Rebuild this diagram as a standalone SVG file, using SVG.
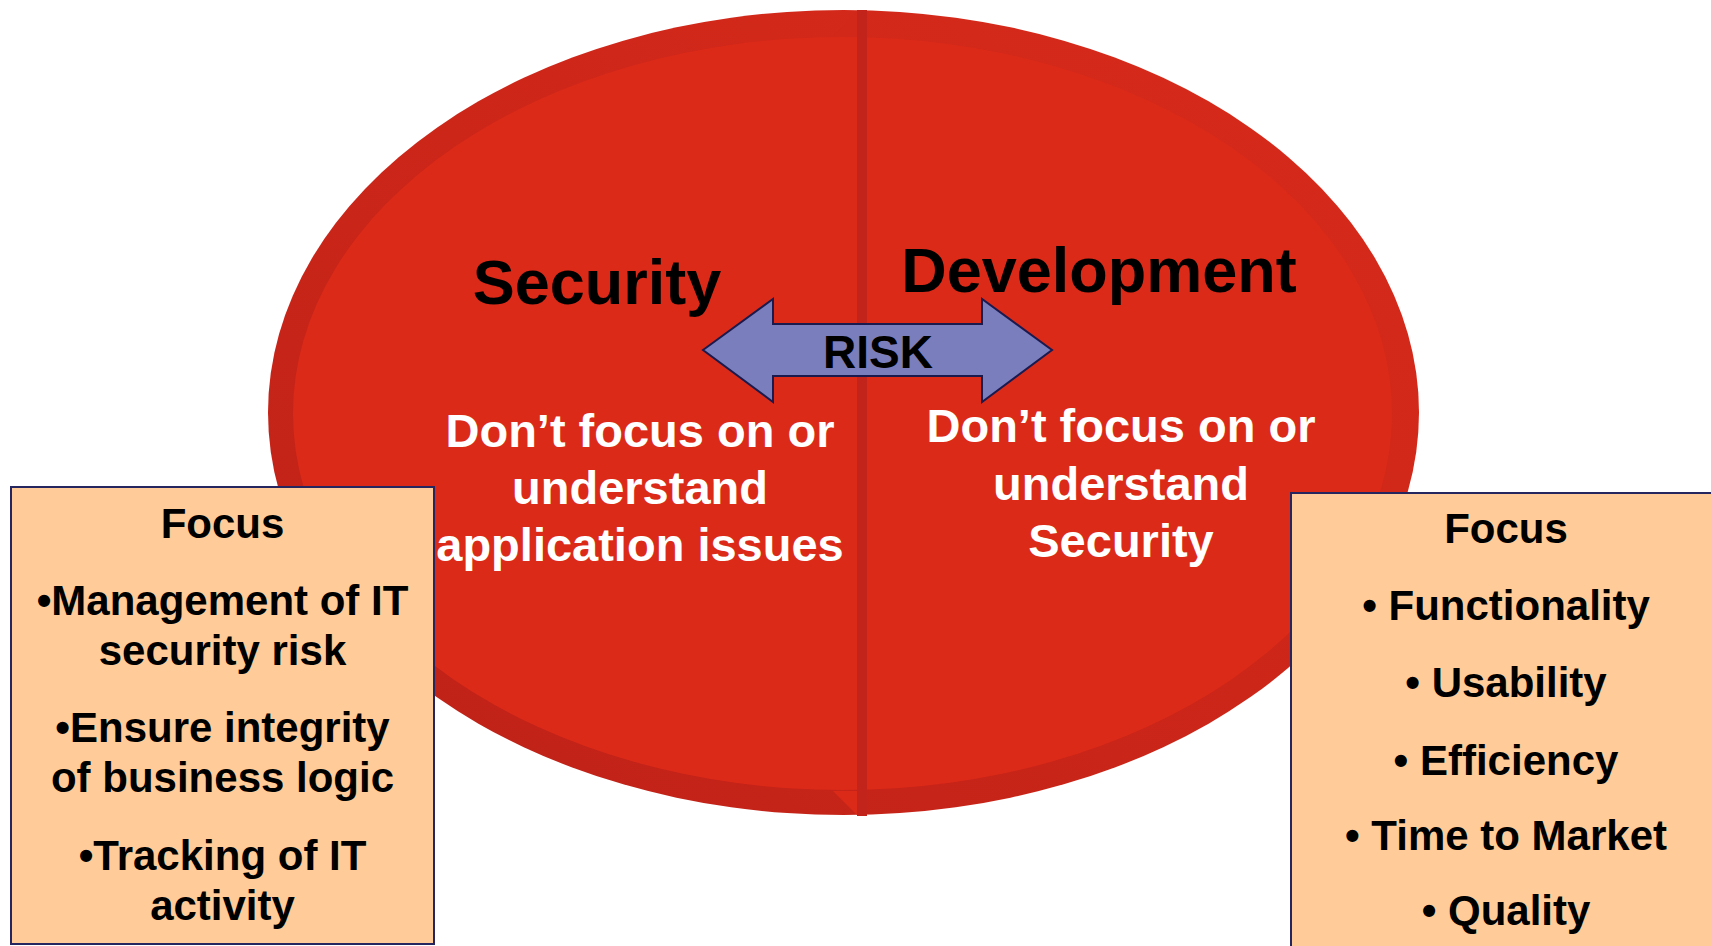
<svg xmlns="http://www.w3.org/2000/svg" width="1711" height="946" viewBox="0 0 1711 946">
<defs>
<linearGradient id="rim" x1="1" y1="0" x2="0" y2="1">
<stop offset="0" stop-color="#D82B1B"/>
<stop offset="0.5" stop-color="#CC2619"/>
<stop offset="1" stop-color="#BD2117"/>
</linearGradient>
<style>
text{font-family:"Liberation Sans",Arial,sans-serif;font-weight:bold;text-anchor:middle}
.title{font-size:63px;fill:#000}
.white{font-size:47px;fill:#fff}
.box{fill:#FFCB98;stroke:#25255F;stroke-width:2}
.bt{font-size:42px;fill:#000}
</style>
</defs>
<rect width="1711" height="946" fill="#fff"/>
<g id="circle">
<ellipse cx="843.5" cy="412.5" rx="575.5" ry="402.5" fill="url(#rim)"/>
<ellipse cx="842.5" cy="413.5" rx="549.5" ry="376.5" fill="#DC2A19"/>
<polygon points="833,37 858,10 858,37" fill="#D22819"/>
<polygon points="833,791 858,816 858,791" fill="#DC2A19"/>
<rect x="857" y="10" width="10" height="806" fill="#C2231A"/>
</g>
<g id="security">
<text class="title" x="597" y="304">Security</text>
<text class="white" x="640" y="447">Don’t focus on or</text>
<text class="white" x="640" y="504">understand</text>
<text class="white" x="640" y="561">application issues</text>
</g>
<g id="development">
<text class="title" x="1099" y="292">Development</text>
<text class="white" x="1121" y="442">Don’t focus on or</text>
<text class="white" x="1121" y="500">understand</text>
<text class="white" x="1121" y="557">Security</text>
</g>
<g id="connectors">
<g id="risk">
<polygon points="703,350 773,299 773,324 982,324 982,299 1052,350 982,402 982,376 773,376 773,402" fill="#7B7EBD" stroke="#1A1A4E" stroke-width="2" stroke-linejoin="miter"/>
<text x="878" y="368" style="font-size:46px;fill:#000">RISK</text>
</g>
</g>
<g id="security-focus">
<rect class="box" x="11" y="487" width="423" height="457"/>
<text class="bt" x="222.5" y="538">Focus</text>
<text class="bt" x="222.5" y="615">•Management of IT</text>
<text class="bt" x="222.5" y="665">security risk</text>
<text class="bt" x="222.5" y="742">•Ensure integrity</text>
<text class="bt" x="222.5" y="792">of business logic</text>
<text class="bt" x="222.5" y="870">•Tracking of IT</text>
<text class="bt" x="222.5" y="920">activity</text>
</g>
<g id="development-focus">
<rect class="box" x="1291" y="493" width="430" height="470"/>
<text class="bt" x="1506" y="543">Focus</text>
<text class="bt" x="1506" y="620">• Functionality</text>
<text class="bt" x="1506" y="697">• Usability</text>
<text class="bt" x="1506" y="775">• Efficiency</text>
<text class="bt" x="1506" y="850">• Time to Market</text>
<text class="bt" x="1506" y="925">• Quality</text>
</g>
</svg>
